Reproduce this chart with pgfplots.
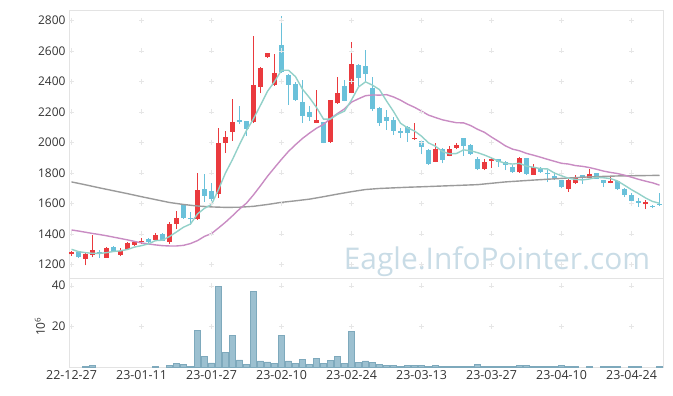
\documentclass[border=0pt]{standalone}
\usepackage{fontspec}
\setmainfont{Open Sans}
\usepackage{pgfplots}
\pgfplotsset{compat=1.18}
\usepackage{pgfplotstable}
\definecolor{upc}{RGB}{234,58,62}
\definecolor{dnc}{RGB}{106,193,218}
\definecolor{maA}{RGB}{147,209,201}
\definecolor{maB}{RGB}{201,140,195}
\definecolor{maC}{RGB}{155,155,155}
\definecolor{wmc}{RGB}{201,220,230}
\definecolor{volfill}{RGB}{156,192,208}
\definecolor{voledge}{RGB}{126,169,188}
\definecolor{framec}{RGB}{227,227,227}
\definecolor{gridc}{RGB}{230,230,230}
\definecolor{labc}{RGB}{51,51,51}

\pgfplotstableread{
x o h l c
0 1265 1290 1255 1280
2 1237 1283 1192 1268
3 1261 1390 1246 1294
5 1243 1310 1243 1305
7 1263 1305 1252 1289
8 1298 1343 1295 1338
9 1327 1352 1320 1346
10 1346 1370 1330 1354
12 1359 1408 1352 1392
14 1348 1474 1335 1464
15 1464 1549 1430 1502
18 1497 1797 1493 1687
21 1663 2092 1637 1993
22 1997 2072 1928 2037
23 2070 2282 2010 2131
26 2130 2697 2125 2376
27 2365 2496 2321 2485
28 2557 2585 2553 2583
29 2374 2576 2369 2452
35 2128 2343 2125 2146
37 2004 2280 1998 2277
38 2255 2426 2251 2325
40 2325 2656 2321 2511
49 2020 2125 2015 2030
52 1873 1997 1869 1954
54 1910 1978 1908 1954
55 1965 1993 1954 1982
59 1825 1888 1818 1873
60 1880 1899 1830 1890
64 1803 1905 1800 1899
66 1788 1856 1785 1836
71 1692 1760 1676 1753
72 1735 1782 1725 1770
74 1768 1823 1765 1792
77 1735 1775 1730 1748
82 1593 1622 1561 1610
}\uptab

\pgfplotstableread{
x o h l c
1 1283 1287 1240 1245
4 1279 1295 1240 1268
6 1311 1322 1280 1285
11 1368 1370 1332 1345
13 1399 1402 1352 1355
16 1587 1588 1500 1504
17 1505 1545 1460 1495
19 1694 1792 1610 1648
20 1681 1732 1600 1628
24 2146 2238 2118 2134
25 2140 2142 2040 2090
30 2638 2828 2456 2463
31 2441 2445 2245 2376
32 2382 2395 2270 2277
33 2266 2408 2125 2174
34 2200 2238 2142 2168
36 2131 2135 1992 1997
39 2369 2408 2268 2273
41 2507 2511 2369 2424
42 2500 2605 2397 2446
43 2354 2426 2207 2216
44 2227 2230 2107 2128
45 2168 2212 2081 2142
46 2146 2168 2048 2076
47 2076 2092 2030 2063
48 2098 2107 2004 2059
50 2008 2010 1921 1971
51 1949 1958 1852 1856
53 1954 1960 1862 1884
56 2026 2030 1912 1976
57 1982 1987 1915 1923
58 1888 1905 1818 1825
61 1890 1892 1840 1869
62 1869 1875 1818 1851
63 1840 1850 1800 1803
65 1895 1899 1787 1792
67 1830 1840 1800 1807
68 1800 1818 1738 1790
69 1779 1807 1753 1764
70 1753 1755 1698 1705
73 1786 1788 1725 1775
75 1799 1800 1760 1762
76 1753 1755 1705 1735
78 1746 1748 1688 1692
79 1694 1698 1640 1654
80 1654 1665 1610 1615
81 1617 1633 1578 1604
83 1584 1590 1567 1578
84 1598 1670 1582 1592
}\dntab

\pgfplotstableread{
x a b
0 1298 1425
1 1283 1418
2 1276 1410
3 1272 1402
4 1271 1395
5 1276 1387
6 1284 1378
7 1288 1369
8 1297 1360
9 1313 1350
10 1322 1340
11 1334 1333
12 1355 1327
13 1358 1322
14 1382 1320
15 1412 1320
16 1443 1324
17 1464 1336
18 1530 1355
19 1567 1383
20 1592 1401
21 1690 1438
22 1799 1476
23 1887 1518
24 1985 1562
25 2077 1601
26 2154 1655
27 2243 1715
28 2334 1777
29 2397 1833
30 2472 1888
31 2472 1940
32 2430 1984
33 2348 2025
34 2292 2060
35 2228 2092
36 2152 2117
37 2152 2156
38 2183 2188
39 2204 2219
40 2277 2263
41 2362 2285
42 2396 2305
43 2374 2310
44 2345 2309
45 2271 2312
46 2202 2297
47 2125 2276
48 2094 2250
49 2074 2229
50 2040 2204
51 1996 2178
52 1974 2162
53 1939 2147
54 1924 2137
55 1926 2128
56 1950 2127
57 1944 2110
58 1932 2085
59 1916 2065
60 1897 2034
61 1876 2006
62 1862 1976
63 1857 1955
64 1862 1944
65 1843 1927
66 1836 1915
67 1827 1902
68 1825 1888
69 1798 1875
70 1780 1862
71 1764 1857
72 1756 1847
73 1753 1842
74 1759 1834
75 1770 1823
76 1767 1811
77 1762 1802
78 1746 1795
79 1718 1784
80 1689 1771
81 1663 1757
82 1635 1745
83 1612 1734
84 1600 1719
}\matab

\pgfplotstableread{
x g
0 1740
2 1721
4 1701
6 1682
8 1663
10 1643
12 1624
14 1605
16 1592
18 1582
20 1576
22 1573
24 1574
26 1580
28 1592
30 1606
32 1616
34 1627
36 1643
38 1660
40 1676
42 1690
44 1697
46 1701
48 1705
50 1708
54 1715
58 1722
62 1740
66 1752
70 1763
74 1773
78 1779
84 1783
}\gtab

\pgfplotstableread{
x v
2 0.4
3 0.8
12 0.4
14 0.8
15 1.8
16 1.3
17 0.4
18 18.2
19 5.2
20 2.0
21 39.8
22 7.3
23 15.6
24 3.5
25 1.4
26 37.2
27 3.0
28 2.5
29 1.9
30 15.6
31 3.0
32 1.9
33 3.8
34 1.3
35 4.3
36 1.8
37 3.4
38 5.3
39 1.9
40 17.5
41 2.4
42 3.0
43 2.4
44 1.4
45 0.9
46 0.9
47 0.4
48 0.9
49 0.9
50 0.9
51 0.4
52 0.9
53 0.3
54 0.3
55 0.3
56 0.3
57 0.3
58 1.3
59 0.3
60 0.3
61 0.3
62 0.3
63 0.3
64 0.8
65 0.8
66 0.3
67 0.3
68 0.3
69 0.3
70 0.8
71 0.3
72 0.3
74 0.3
76 0.3
77 0.3
78 0.3
80 0.3
81 0.3
84 0.3
}\voltab

\begin{document}
\begin{tikzpicture}
\useasboundingbox (0,0) rectangle (673bp,-396bp);
\begin{axis}[
  name=main, at={(69bp,-10bp)}, anchor=north west,
  scale only axis, width=594bp, height=268bp,
  xmin=-0.357, xmax=84.5, ymin=1110, ymax=2867,
  axis line style={draw=framec},
  xtick={0,10,...,80}, xticklabels={},
  ytick={1200,1400,...,2800},
  major tick length=0pt,
  /pgf/number format/1000 sep={},
  /pgf/number format/assume math mode=true,
  yticklabel style={font=\fontsize{12}{12}\selectfont, text=labc},
  clip=true,
]
\node[font=\fontsize{30}{30}\selectfont, text=wmc, anchor=base] at (rel axis cs:0.7205,0.03) {Eagle.InfoPointer.com};
\pgfplotsinvokeforeach{1200,1400,1600,1800,2000,2200,2400,2600,2800}{
  \addplot[only marks, mark=+, mark size=2.5bp, gridc, forget plot] coordinates {(0,#1)(10,#1)(20,#1)(30,#1)(40,#1)(50,#1)(60,#1)(70,#1)(80,#1)};
}
% wicks
\addplot[draw=none, mark=none, forget plot, error bars/.cd, y dir=plus, y explicit, error mark=none, error bar style={line width=1bp, solid, draw=upc}] table[x=x, y=l, y error expr=\thisrow{h}-\thisrow{l}] {\uptab};
\addplot[draw=none, mark=none, forget plot, error bars/.cd, y dir=plus, y explicit, error mark=none, error bar style={line width=1bp, solid, draw=dnc}] table[x=x, y=l, y error expr=\thisrow{h}-\thisrow{l}] {\dntab};
% bodies
\addplot[draw=none, mark=none, forget plot, error bars/.cd, y dir=plus, y explicit, error mark=none, error bar style={line width=5bp, solid, draw=upc}] table[x=x, y=o, y error expr=\thisrow{c}-\thisrow{o}] {\uptab};
\addplot[draw=none, mark=none, forget plot, error bars/.cd, y dir=plus, y explicit, error mark=none, error bar style={line width=5bp, solid, draw=dnc}] table[x=x, y=c, y error expr=\thisrow{o}-\thisrow{c}] {\dntab};
% moving averages
\addplot[maC, line width=1.4bp, mark=none] table[x=x, y=g] {\gtab};
\addplot[maB, line width=1.4bp, mark=none] table[x=x, y=b] {\matab};
\addplot[maA, line width=1.4bp, mark=none] table[x=x, y=a] {\matab};
\end{axis}
\begin{axis}[
  at={(main.south west)}, anchor=north west,
  scale only axis, width=594bp, height=89bp,
  xmin=-0.357, xmax=84.5, ymin=0, ymax=43.8,
  axis line style={draw=framec},
  xtick={0,10,...,80},
  xticklabels={22-12-27,23-01-11,23-01-27,23-02-10,23-02-24,23-03-13,23-03-27,23-04-10,23-04-24},
  ytick={20,40},
  major tick length=0pt,
  /pgf/number format/assume math mode=true,
  yticklabel style={font=\fontsize{12}{12}\selectfont, text=labc},
  xticklabel style={font=\fontsize{12.5}{12.5}\selectfont, text=labc},
  ylabel={10\textsuperscript{6}},
  ylabel style={font=\fontsize{12}{12}\selectfont, text=labc, xshift=-4bp},
]
\pgfplotsinvokeforeach{20,40}{
  \addplot[only marks, mark=+, mark size=2.5bp, gridc, forget plot] coordinates {(0,#1)(10,#1)(20,#1)(30,#1)(40,#1)(50,#1)(60,#1)(70,#1)(80,#1)};
}
\addplot[ybar, bar width=6.2bp, fill=volfill, draw=voledge, line width=0.6bp] table[x=x, y=v] {\voltab};
\end{axis}
\end{tikzpicture}
\end{document}
